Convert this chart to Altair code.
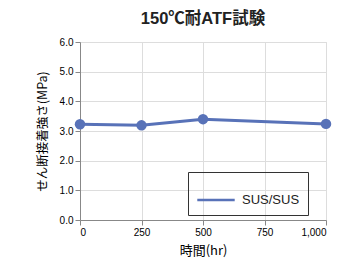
import altair as alt
import pandas as pd

hours = [0, 250, 500, 1000]
strength = [3.23, 3.19, 3.40, 3.24]
series = ["SUS/SUS"] * 4

df = pd.DataFrame({"hours": hours, "strength": strength, "series": series})

FONT = "Liberation Sans, Noto Sans CJK JP"
COLOR = "#5872b8"

x = alt.X("hours:Q", scale=alt.Scale(domain=[0, 1000], nice=False),
          axis=alt.Axis(values=[0, 250, 500, 750, 1000], format=",.0f", title="時間(hr)",
                        titleFont="Noto Sans CJK JP", titleFontSize=13, titleFontWeight="normal",
                        titlePadding=7))
y = alt.Y("strength:Q", scale=alt.Scale(domain=[0, 6], nice=False),
          axis=alt.Axis(values=[0, 1, 2, 3, 4, 5, 6], format=".1f", title="せん断接着強さ(MPa)",
                        titleFont="Noto Sans CJK JP", titleFontSize=12.5, titleFontWeight="normal",
                        titlePadding=10))

line = alt.Chart(df).mark_line(strokeWidth=3).encode(
    x=x, y=y,
    color=alt.Color("series:N", scale=alt.Scale(range=[COLOR]),
                    legend=alt.Legend(title=None, orient="none", legendX=108, legendY=130,
                                      symbolType="stroke", symbolSize=1400, symbolStrokeWidth=2.5,
                                      labelFontSize=13, labelFont=FONT, labelColor="#222",
                                      strokeColor="#333", padding=8, labelOffset=6))
)
points = alt.Chart(df).mark_circle(size=110, opacity=1, color=COLOR).encode(x=x, y=y)

chart = alt.layer(line, points).properties(
    width=246, height=178,
    title=alt.TitleParams("150℃耐ATF試験", font=FONT, fontSize=16.5, fontWeight="bold",
                          color="#222", offset=10),
    autosize=alt.AutoSizeParams(type="none"),
    padding={"left": 80, "top": 42, "right": 23, "bottom": 51},
).configure_view(stroke="#333", strokeWidth=1.2).configure_axis(
    grid=True, gridColor="#dddddd", ticks=False, labelPadding=5, domain=False,
    labelFont=FONT, labelFontSize=13, labelColor="#222", titleColor="#222"
).configure(background="white")

chart.save("out.html", embed_options={"renderer": "svg", "actions": False})
